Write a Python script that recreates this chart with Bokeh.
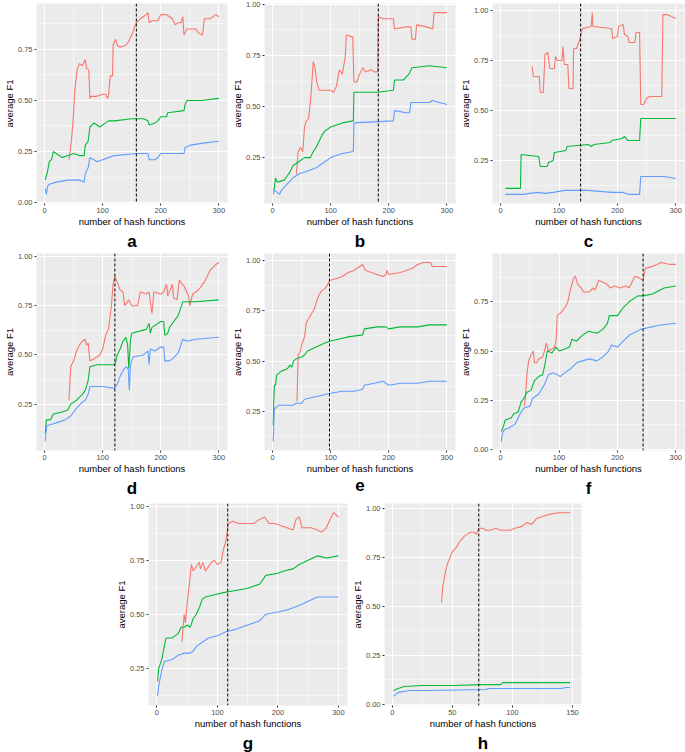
from bokeh.plotting import figure
from bokeh.models import Span, Title, FixedTicker, NumeralTickFormatter
from bokeh.layouts import column, row, Spacer
from bokeh.embed import file_html
from bokeh.resources import INLINE

# ---- data: (number of hash functions, average F1) ----
a_red = [(42,.21),(44,.25),(47,.33),(49,.40),(52,.55),(56,.65),(60,.68),(65,.67),(70,.70),(72,.66),(76,.65),(78,.51),(80,.52),(90,.52),(100,.53),(105,.53),(108,.51),(110,.52),(113,.62),(117,.62),(118,.77),(122,.80),(125,.77),(130,.76),(140,.77),(145,.79),(150,.82),(155,.86),(158,.88),(165,.90),(170,.91),(175,.92),(178,.93),(180,.88),(185,.89),(195,.89),(200,.92),(210,.92),(215,.91),(220,.90),(225,.87),(230,.88),(235,.88),(238,.91),(240,.82),(245,.85),(260,.85),(265,.83),(272,.82),(275,.90),(285,.90),(295,.92),(300,.91)]
a_green = [(1,.11),(3,.13),(5,.15),(8,.20),(12,.21),(15,.25),(20,.24),(30,.22),(40,.23),(50,.24),(60,.23),(68,.23),(70,.28),(75,.30),(78,.37),(85,.39),(90,.38),(95,.37),(105,.39),(110,.40),(120,.40),(150,.41),(170,.41),(178,.40),(180,.38),(190,.39),(195,.40),(200,.42),(210,.42),(212,.44),(240,.45),(242,.48),(245,.50),(270,.50),(300,.51)]
a_blue = [(1,.07),(3,.04),(5,.08),(8,.09),(20,.10),(40,.11),(60,.11),(68,.10),(70,.14),(75,.17),(78,.22),(85,.21),(90,.20),(100,.21),(110,.22),(120,.23),(160,.24),(178,.24),(180,.21),(190,.21),(195,.22),(200,.24),(240,.24),(242,.27),(250,.28),(270,.29),(300,.30)]

b_red = [(41,.17),(44,.28),(48,.30),(52,.28),(55,.40),(58,.43),(62,.44),(66,.55),(70,.72),(73,.69),(76,.62),(80,.58),(90,.58),(100,.58),(105,.57),(110,.60),(115,.68),(120,.66),(125,.74),(127,.85),(138,.84),(140,.62),(145,.62),(150,.66),(155,.69),(160,.67),(170,.68),(175,.67),(181,.67),(182,.94),(190,.93),(208,.93),(210,.88),(230,.89),(238,.89),(240,.83),(246,.83),(248,.90),(265,.89),(276,.88),(278,.96),(300,.96)]
b_green = [(1,.09),(3,.10),(5,.15),(8,.13),(20,.14),(25,.16),(30,.18),(35,.21),(45,.23),(55,.25),(65,.25),(70,.28),(75,.30),(80,.33),(85,.36),(90,.38),(100,.40),(110,.41),(120,.42),(139,.43),(140,.57),(180,.57),(208,.58),(210,.63),(225,.63),(232,.65),(235,.66),(240,.69),(270,.70),(300,.69)]
b_blue = [(1,.07),(3,.09),(8,.08),(12,.07),(15,.09),(25,.12),(35,.15),(45,.17),(55,.18),(65,.19),(75,.20),(85,.22),(100,.25),(110,.26),(120,.27),(139,.28),(140,.42),(208,.43),(210,.48),(230,.47),(236,.47),(238,.52),(270,.52),(275,.53),(300,.51)]

c_red = [(54,.72),(56,.67),(66,.67),(68,.59),(73,.59),(76,.78),(81,.79),(84,.71),(92,.71),(94,.77),(97,.75),(105,.75),(107,.82),(109,.73),(115,.73),(117,.61),(124,.61),(125,.81),(130,.81),(135,.85),(139,.90),(140,.91),(155,.92),(157,.99),(158,.92),(190,.91),(192,.86),(200,.87),(202,.92),(210,.93),(212,.88),(218,.87),(220,.84),(230,.84),(232,.89),(238,.89),(240,.53),(245,.53),(250,.56),(255,.57),(276,.57),(278,.98),(285,.98),(300,.96)]
c_green = [(8,.11),(34,.11),(35,.28),(65,.27),(68,.22),(80,.22),(82,.24),(90,.25),(92,.29),(112,.30),(114,.32),(150,.33),(155,.32),(160,.33),(188,.34),(190,.35),(208,.36),(212,.37),(218,.35),(238,.35),(240,.46),(300,.46)]
c_blue = [(8,.08),(40,.08),(50,.085),(65,.09),(75,.085),(90,.09),(110,.10),(150,.10),(190,.09),(210,.09),(220,.08),(238,.08),(240,.17),(280,.17),(300,.16)]

d_red = [(42,.27),(45,.44),(50,.47),(55,.52),(60,.55),(65,.57),(70,.58),(72,.55),(75,.56),(78,.47),(85,.48),(95,.50),(100,.53),(105,.60),(110,.63),(115,.75),(118,.86),(121,.90),(125,.87),(130,.83),(135,.82),(138,.75),(145,.78),(150,.75),(160,.75),(165,.82),(175,.81),(180,.82),(183,.75),(185,.71),(188,.82),(200,.81),(205,.82),(210,.86),(212,.80),(220,.86),(222,.79),(228,.78),(232,.88),(240,.85),(248,.80),(250,.75),(255,.81),(265,.83),(275,.87),(285,.93),(295,.96),(300,.97)]
d_green = [(1,.10),(3,.17),(10,.17),(15,.20),(30,.21),(40,.22),(45,.25),(55,.27),(65,.30),(70,.32),(75,.37),(78,.44),(90,.45),(120,.45),(122,.46),(125,.50),(130,.53),(135,.57),(140,.59),(143,.55),(145,.43),(148,.58),(150,.61),(175,.63),(180,.66),(182,.61),(185,.64),(200,.67),(205,.67),(207,.60),(212,.61),(215,.64),(225,.68),(230,.70),(238,.77),(260,.77),(300,.78)]
d_blue = [(1,.06),(2,.10),(4,.14),(15,.15),(25,.16),(35,.17),(45,.19),(55,.23),(65,.26),(70,.27),(75,.30),(78,.34),(100,.34),(120,.33),(125,.35),(130,.39),(135,.42),(140,.44),(144,.43),(146,.32),(148,.45),(152,.49),(170,.50),(178,.52),(180,.45),(182,.53),(190,.52),(200,.54),(205,.54),(207,.47),(215,.47),(220,.48),(230,.51),(238,.58),(245,.57),(260,.58),(300,.59)]

e_red = [(42,.30),(44,.53),(48,.55),(50,.58),(55,.62),(58,.69),(62,.71),(68,.74),(72,.76),(75,.79),(80,.83),(85,.85),(90,.86),(95,.88),(98,.90),(110,.91),(120,.92),(130,.94),(140,.95),(150,.97),(155,.98),(160,.95),(170,.94),(180,.93),(190,.92),(195,.93),(197,.95),(200,.93),(220,.94),(240,.96),(250,.98),(260,.99),(272,.99),(275,.97),(300,.97)]
e_green = [(1,.18),(2,.30),(3,.38),(5,.38),(7,.43),(15,.45),(25,.46),(30,.48),(33,.47),(36,.50),(40,.51),(50,.52),(55,.53),(60,.55),(75,.57),(90,.59),(100,.60),(115,.61),(130,.62),(155,.63),(158,.66),(180,.67),(195,.67),(200,.66),(220,.67),(250,.67),(270,.68),(300,.68)]
e_blue = [(1,.10),(2,.18),(3,.26),(6,.27),(10,.28),(35,.28),(40,.29),(50,.29),(55,.31),(70,.32),(85,.33),(100,.34),(120,.35),(140,.35),(155,.36),(158,.38),(175,.39),(190,.40),(195,.39),(200,.38),(220,.39),(250,.39),(270,.40),(300,.40)]

f_red = [(40,.22),(42,.25),(45,.38),(48,.45),(52,.48),(56,.50),(58,.44),(62,.44),(65,.46),(72,.47),(75,.50),(78,.54),(82,.50),(88,.51),(92,.52),(95,.55),(97,.68),(105,.70),(112,.73),(115,.75),(120,.82),(125,.87),(128,.88),(132,.84),(138,.82),(142,.80),(152,.80),(158,.82),(162,.81),(168,.86),(175,.85),(182,.84),(188,.82),(195,.83),(205,.82),(215,.83),(220,.82),(225,.85),(230,.88),(238,.87),(244,.86),(248,.92),(260,.93),(275,.95),(290,.94),(300,.94)]
f_green = [(1,.09),(5,.12),(8,.15),(18,.16),(22,.18),(30,.19),(35,.24),(40,.26),(45,.29),(52,.30),(58,.35),(65,.37),(72,.38),(75,.42),(80,.50),(88,.49),(95,.52),(100,.50),(110,.51),(118,.52),(122,.56),(130,.55),(140,.58),(150,.60),(165,.59),(175,.61),(183,.64),(186,.68),(200,.68),(210,.72),(220,.75),(235,.78),(244,.78),(260,.79),(280,.82),(300,.83)]
f_blue = [(1,.04),(3,.08),(6,.10),(15,.11),(25,.13),(35,.19),(40,.21),(50,.22),(55,.26),(65,.28),(75,.33),(82,.38),(90,.39),(97,.38),(102,.37),(110,.39),(120,.41),(130,.44),(140,.45),(152,.46),(165,.45),(175,.47),(185,.50),(190,.53),(200,.52),(210,.55),(220,.58),(240,.61),(255,.62),(270,.63),(295,.64),(300,.64)]

g_red = [(41,.37),(42,.40),(45,.50),(47,.46),(50,.55),(54,.65),(57,.73),(60,.70),(65,.72),(70,.74),(72,.71),(76,.74),(80,.70),(85,.72),(90,.74),(95,.75),(100,.73),(106,.74),(110,.80),(114,.84),(118,.92),(125,.93),(135,.92),(145,.92),(160,.92),(170,.94),(178,.95),(185,.92),(195,.92),(205,.91),(215,.90),(225,.89),(230,.94),(235,.95),(240,.90),(255,.90),(265,.89),(272,.88),(280,.90),(288,.95),(292,.97),(300,.95)]
g_green = [(1,.19),(3,.25),(8,.29),(12,.35),(15,.39),(25,.39),(35,.41),(40,.44),(45,.44),(50,.45),(55,.44),(60,.48),(65,.50),(70,.53),(75,.57),(80,.58),(95,.59),(110,.60),(130,.61),(150,.62),(170,.64),(180,.68),(200,.69),(210,.70),(225,.71),(235,.73),(250,.75),(265,.77),(280,.76),(300,.77)]
g_blue = [(1,.12),(3,.17),(8,.24),(12,.28),(25,.29),(35,.31),(45,.32),(55,.32),(60,.33),(65,.35),(75,.37),(85,.39),(100,.40),(115,.42),(130,.43),(150,.45),(170,.47),(180,.50),(200,.51),(215,.52),(235,.54),(250,.56),(265,.58),(280,.58),(300,.58)]

h_red = [(41,.52),(42,.60),(44,.67),(46,.72),(48,.75),(50,.78),(53,.80),(56,.83),(60,.86),(65,.88),(68,.88),(70,.87),(72,.90),(75,.90),(78,.89),(82,.89),(86,.90),(90,.89),(98,.89),(102,.90),(108,.91),(112,.93),(116,.92),(120,.95),(125,.96),(130,.97),(138,.98),(142,.98),(148,.98)]
h_green = [(1,.07),(5,.08),(10,.09),(25,.095),(50,.095),(75,.10),(90,.10),(92,.11),(148,.11)]
h_blue = [(1,.04),(5,.06),(15,.07),(30,.07),(78,.075),(80,.08),(140,.08),(145,.085),(148,.085)]

panel_letters = ["a", "b", "c", "d", "e", "f", "g", "h"]
best_k = [158, 182, 137, 121, 98, 244, 117, 72]          # dashed vertical line
max_hash = [300, 300, 300, 300, 300, 300, 300, 150]      # hash functions evaluated: 1..max
x_ticks_300 = [0, 100, 200, 300]
x_minor_300 = [50, 150, 250]
x_ticks_150 = [0, 50, 100, 150]
x_minor_150 = [25, 75, 125]
y_ticks = [0.0, 0.25, 0.5, 0.75, 1.0]
y_minor = [0.125, 0.375, 0.625, 0.875]

RED, GREEN, BLUE = "#F8766D", "#00BA38", "#619CFF"
FONT = "Liberation Sans"


def panel(letter, red, green, blue, vline, xmax, xticks, xminor, width, height, top):
    series = [(red, RED), (green, GREEN), (blue, BLUE)]
    ys_all = [y for s, _ in series for _x, y in s]
    xlo, xhi = 1, xmax
    ylo, yhi = min(ys_all), max(ys_all)
    dx = (xhi - xlo) * 0.05
    dy = (yhi - ylo) * 0.05
    p = figure(width=width, height=height,
               x_range=(xlo - dx, xhi + dx), y_range=(ylo - dy, yhi + dy),
               output_backend="svg", toolbar_location=None,
               min_border_left=0, min_border_right=1,
               min_border_top=top, min_border_bottom=0)
    p.background_fill_color = "#EBEBEB"
    p.border_fill_color = "white"
    p.outline_line_color = None
    p.xaxis.ticker = FixedTicker(ticks=xticks, minor_ticks=xminor)
    p.yaxis.ticker = FixedTicker(ticks=y_ticks, minor_ticks=y_minor)
    p.yaxis.formatter = NumeralTickFormatter(format="0.00")
    for g in (p.xgrid, p.ygrid):
        g.grid_line_color = "white"
        g.grid_line_width = 1.1
        g.minor_grid_line_color = "white"
        g.minor_grid_line_width = 0.5
    for ax in (p.xaxis, p.yaxis):
        ax.axis_line_color = None
        ax.minor_tick_line_color = None
        ax.major_tick_in = 0
        ax.major_tick_out = 2
        ax.major_tick_line_color = "#333333"
        ax.major_label_text_font = FONT
        ax.major_label_text_font_size = "7.5px"
        ax.major_label_text_color = "#4D4D4D"
        ax.major_label_standoff = 0
        ax.axis_label_text_font = FONT
        ax.axis_label_text_font_size = "9.5px"
        ax.axis_label_text_font_style = "normal"
        ax.axis_label_text_color = "black"
        ax.axis_label_standoff = 0
        ax.axis_label_text_line_height = 0.8
        ax.major_label_text_line_height = 0.9
    p.xaxis.axis_label = "number of hash functions"
    p.yaxis.axis_label = "average F1"
    for s, col in series:
        p.line([x for x, _ in s], [y for _, y in s], line_color=col, line_width=1.1)
    p.add_layout(Span(location=vline, dimension="height", line_color="black",
                      line_dash="3 2", line_width=1))
    p.add_layout(Title(text=letter, align="center", text_font=FONT,
                       text_font_size="17px", text_font_style="bold",
                       text_color="black", standoff=0, text_line_height=0.75), "below")
    return p


data = [(a_red, a_green, a_blue), (b_red, b_green, b_blue), (c_red, c_green, c_blue),
        (d_red, d_green, d_blue), (e_red, e_green, e_blue), (f_red, f_green, f_blue),
        (g_red, g_green, g_blue), (h_red, h_green, h_blue)]

sizes = [(228, 250, 0), (228, 250, 3), (229, 250, 3),
         (228, 247, 3), (228, 247, 3), (229, 247, 3),
         (236, 255, 6), (234, 255, 6)]

plots = []
for i, (r, g, b) in enumerate(data):
    w, h, top = sizes[i]
    if max_hash[i] == 150:
        xt, xm = x_ticks_150, x_minor_150
    else:
        xt, xm = x_ticks_300, x_minor_300
    plots.append(panel(panel_letters[i], r, g, b, best_k[i], max_hash[i], xt, xm, w, h, top))

layout = column(
    row(plots[0], plots[1], plots[2]),
    row(plots[3], plots[4], plots[5]),
    row(Spacer(width=112, height=255), plots[6], plots[7]),
    spacing=0,
)

open("out.html", "w").write(file_html(layout, INLINE))
